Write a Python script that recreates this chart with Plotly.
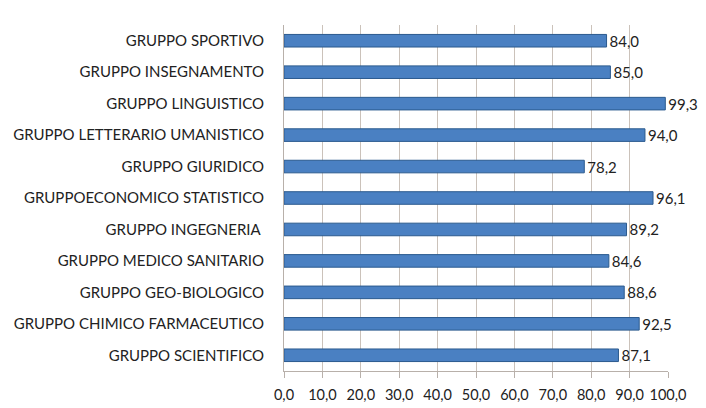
import plotly.graph_objects as go

# categorie (dall'alto verso il basso)
gruppi = [
    "GRUPPO SPORTIVO",
    "GRUPPO INSEGNAMENTO",
    "GRUPPO LINGUISTICO",
    "GRUPPO LETTERARIO UMANISTICO",
    "GRUPPO GIURIDICO",
    "GRUPPOECONOMICO STATISTICO",
    "GRUPPO INGEGNERIA ",
    "GRUPPO MEDICO SANITARIO",
    "GRUPPO GEO-BIOLOGICO",
    "GRUPPO CHIMICO FARMACEUTICO",
    "GRUPPO SCIENTIFICO",
]
valori = [84.0, 85.0, 99.3, 94.0, 78.2, 96.1, 89.2, 84.6, 88.6, 92.5, 87.1]
tick_vals = [0, 10, 20, 30, 40, 50, 60, 70, 80, 90, 100]
tick_text = ["0,0", "10,0", "20,0", "30,0", "40,0", "50,0",
             "60,0", "70,0", "80,0", "90,0", "100,0"]

font_main = "Lato, 'Open Sans', sans-serif"

fig = go.Figure(
    go.Bar(
        x=valori,
        y=gruppi,
        orientation="h",
        width=0.4,
        marker=dict(color="#4a80c2", line=dict(color="#2b5a8e", width=1)),
        texttemplate="%{x:.1f}",
        textposition="outside",
        constraintext="none",
        textfont=dict(size=15, color="#222222", family=font_main),
        cliponaxis=False,
    )
)

# la pagina html ha un margine di 8px: figura leggermente ridotta
fig.update_layout(
    width=698,
    height=400,
    margin=dict(l=276, r=38, t=17, b=37),
    paper_bgcolor="white",
    plot_bgcolor="white",
    separators=",.",
    showlegend=False,
    font=dict(family=font_main, size=14, color="#222222"),
    xaxis=dict(
        range=[0, 100],
        tickvals=tick_vals,
        ticktext=tick_text,
        automargin=False,
        showgrid=True,
        gridcolor="#cbc2ba",
        gridwidth=1,
        zeroline=False,
        showline=True,
        linecolor="#b8b0aa",
        ticks="outside",
        ticklen=6,
        tickcolor="#b8b0aa",
        ticklabelstandoff=5,
        tickfont=dict(size=14.5, color="#222222"),
        fixedrange=True,
    ),
    yaxis=dict(
        autorange="reversed",
        automargin=False,
        showline=True,
        linecolor="#b8b0aa",
        ticks="",
        ticklabelstandoff=16,
        tickfont=dict(size=15, color="#222222"),
        fixedrange=True,
    ),
)

fig.write_html("out.html")
